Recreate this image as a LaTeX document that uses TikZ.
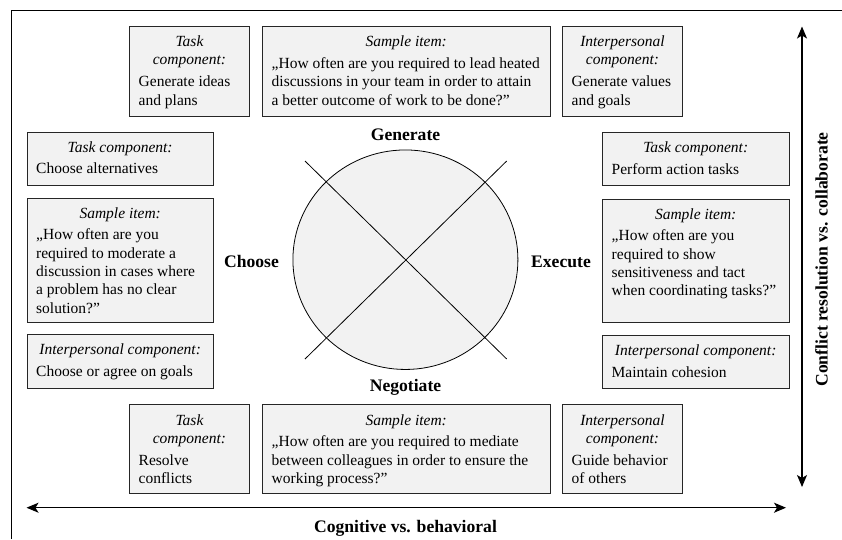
\documentclass[tikz,border=0pt]{standalone}
\usepackage{fontspec}
\setmainfont{Liberation Serif}
\usetikzlibrary{arrows.meta,shapes.geometric}
\definecolor{boxgray}{gray}{0.95}
\begin{document}
\begin{tikzpicture}[x=1pt,y=-1pt,
	box/.style={draw=black!85,line width=0.9pt,fill=boxgray,anchor=north west,inner sep=0pt},
	head/.style={anchor=north,inner sep=0pt,align=center,font=\fontsize{15.5}{18.3}\selectfont\itshape},
	body/.style={anchor=north west,inner sep=0pt,align=left,font=\fontsize{15.5}{18.3}\selectfont,xshift=9.5pt,yshift=-3.2pt},
	lab/.style={anchor=base,inner sep=0pt,font=\fontsize{17.6}{20}\selectfont\bfseries},
	axis/.style={line width=1.2pt,{Stealth[length=12pt,width=10pt,inset=3pt]}-{Stealth[length=12pt,width=10pt,inset=3pt]}}]
	\useasboundingbox (0,0) rectangle (842,539);
	% frame
	\draw[line width=0.8pt] (11.5,539) -- (11.5,10.5) -- (842,10.5);
	% generate
	\node[box,minimum width=120,minimum height=90] (gt) at (129,25.5) {};
	\node[head] (gth) at ([yshift=-8pt]gt.north) {\strut Task\\component:\strut};
	\node[body] (gtb) at (gth.south -| gt.west) {\strut Generate ideas\\and plans};
	\node[box,minimum width=287.5,minimum height=90] (gs) at (262,25.5) {};
	\node[head] (gsh) at ([yshift=-8pt]gs.north) {\strut Sample item:\strut};
	\node[body] (gsb) at (gsh.south -| gs.west) {\strut „How often are you required to lead heated\\discussions in your team in order to attain\\a better outcome of work to be done?”};
	\node[box,minimum width=120,minimum height=90] (gi) at (562,25.5) {};
	\node[head] (gih) at ([yshift=-8pt]gi.north) {\strut Interpersonal\\component:\strut};
	\node[body] (gib) at (gih.south -| gi.west) {\strut Generate values\\and goals};
	% choose
	\node[box,minimum width=186.5,minimum height=53] (ct) at (26.5,131.5) {};
	\node[head] (cth) at ([yshift=-7.5pt]ct.north) {\strut Task component:\strut};
	\node[body] (ctb) at (cth.south -| ct.west) {\strut Choose alternatives};
	\node[box,minimum width=186.5,minimum height=124] (cs) at (26.5,197.5) {};
	\node[head] (csh) at ([yshift=-7.5pt]cs.north) {\strut Sample item:\strut};
	\node[body] (csb) at (csh.south -| cs.west) {\strut „How often are you\\required to moderate a\\discussion in cases where\\a problem has no clear\\solution?”};
	\node[box,minimum width=186.5,minimum height=53.5] (ci) at (26.5,334) {};
	\node[head] (cih) at ([yshift=-7.5pt]ci.north) {\strut Interpersonal component:\strut};
	\node[body] (cib) at (cih.south -| ci.west) {\strut Choose or agree on goals};
	% execute
	\node[box,minimum width=186.5,minimum height=53] (et) at (602,132) {};
	\node[head] (eth) at ([yshift=-7.5pt]et.north) {\strut Task component:\strut};
	\node[body] (etb) at (eth.south -| et.west) {\strut Perform action tasks};
	\node[box,minimum width=186.5,minimum height=123.5] (es) at (602,198.5) {};
	\node[head] (esh) at ([yshift=-7.5pt]es.north) {\strut Sample item:\strut};
	\node[body] (esb) at (esh.south -| es.west) {\strut „How often are you\\required to show\\sensitiveness and tact\\when coordinating tasks?”};
	\node[box,minimum width=186.5,minimum height=53] (ei) at (602,335) {};
	\node[head] (eih) at ([yshift=-7.5pt]ei.north) {\strut Interpersonal component:\strut};
	\node[body] (eib) at (eih.south -| ei.west) {\strut Maintain cohesion};
	% negotiate
	\node[box,minimum width=120,minimum height=89] (nt) at (129,404) {};
	\node[head] (nth) at ([yshift=-8pt]nt.north) {\strut Task\\component:\strut};
	\node[body] (ntb) at (nth.south -| nt.west) {\strut Resolve\\conflicts};
	\node[box,minimum width=287.5,minimum height=89] (ns) at (262,404) {};
	\node[head] (nsh) at ([yshift=-8pt]ns.north) {\strut Sample item:\strut};
	\node[body] (nsb) at (nsh.south -| ns.west) {\strut „How often are you required to mediate\\between colleagues in order to ensure the\\working process?”};
	\node[box,minimum width=120,minimum height=89] (ni) at (562,404) {};
	\node[head] (nih) at ([yshift=-8pt]ni.north) {\strut Interpersonal\\component:\strut};
	\node[body] (nib) at (nih.south -| ni.west) {\strut Guide behavior\\of others};
	% circle
	\node[ellipse,draw,fill=boxgray,line width=0.8pt,inner sep=0pt,minimum width=225,minimum height=219.5] (wheel) at (405.4,259.7) {};
	\draw[line width=0.8pt] (305,161) -- (506.7,359);
	\draw[line width=0.8pt] (506.7,161) -- (305,359);
	\node[lab] (gen) at (405.5,140) {Generate};
	\node[lab] (neg) at (405.5,391.5) {Negotiate};
	\node[lab] (cho) at (251.5,267) {Choose};
	\node[lab] (exe) at (561,267) {Execute};
	% axes
	\coordinate (hl) at (26.5,507.7);
	\coordinate (hr) at (786,507.7);
	\coordinate (vt) at (802,26.5);
	\coordinate (vb) at (802,487);
	\draw[axis] (hl) -- (hr);
	\draw[axis] (vb) -- (vt);
	\node[lab] (cog) at (405.5,532) {Cognitive vs. behavioral};
	\node[lab,rotate=90] (con) at (827.5,259.5) {Conflict resolution vs. collaborate};
\end{tikzpicture}
\end{document}
